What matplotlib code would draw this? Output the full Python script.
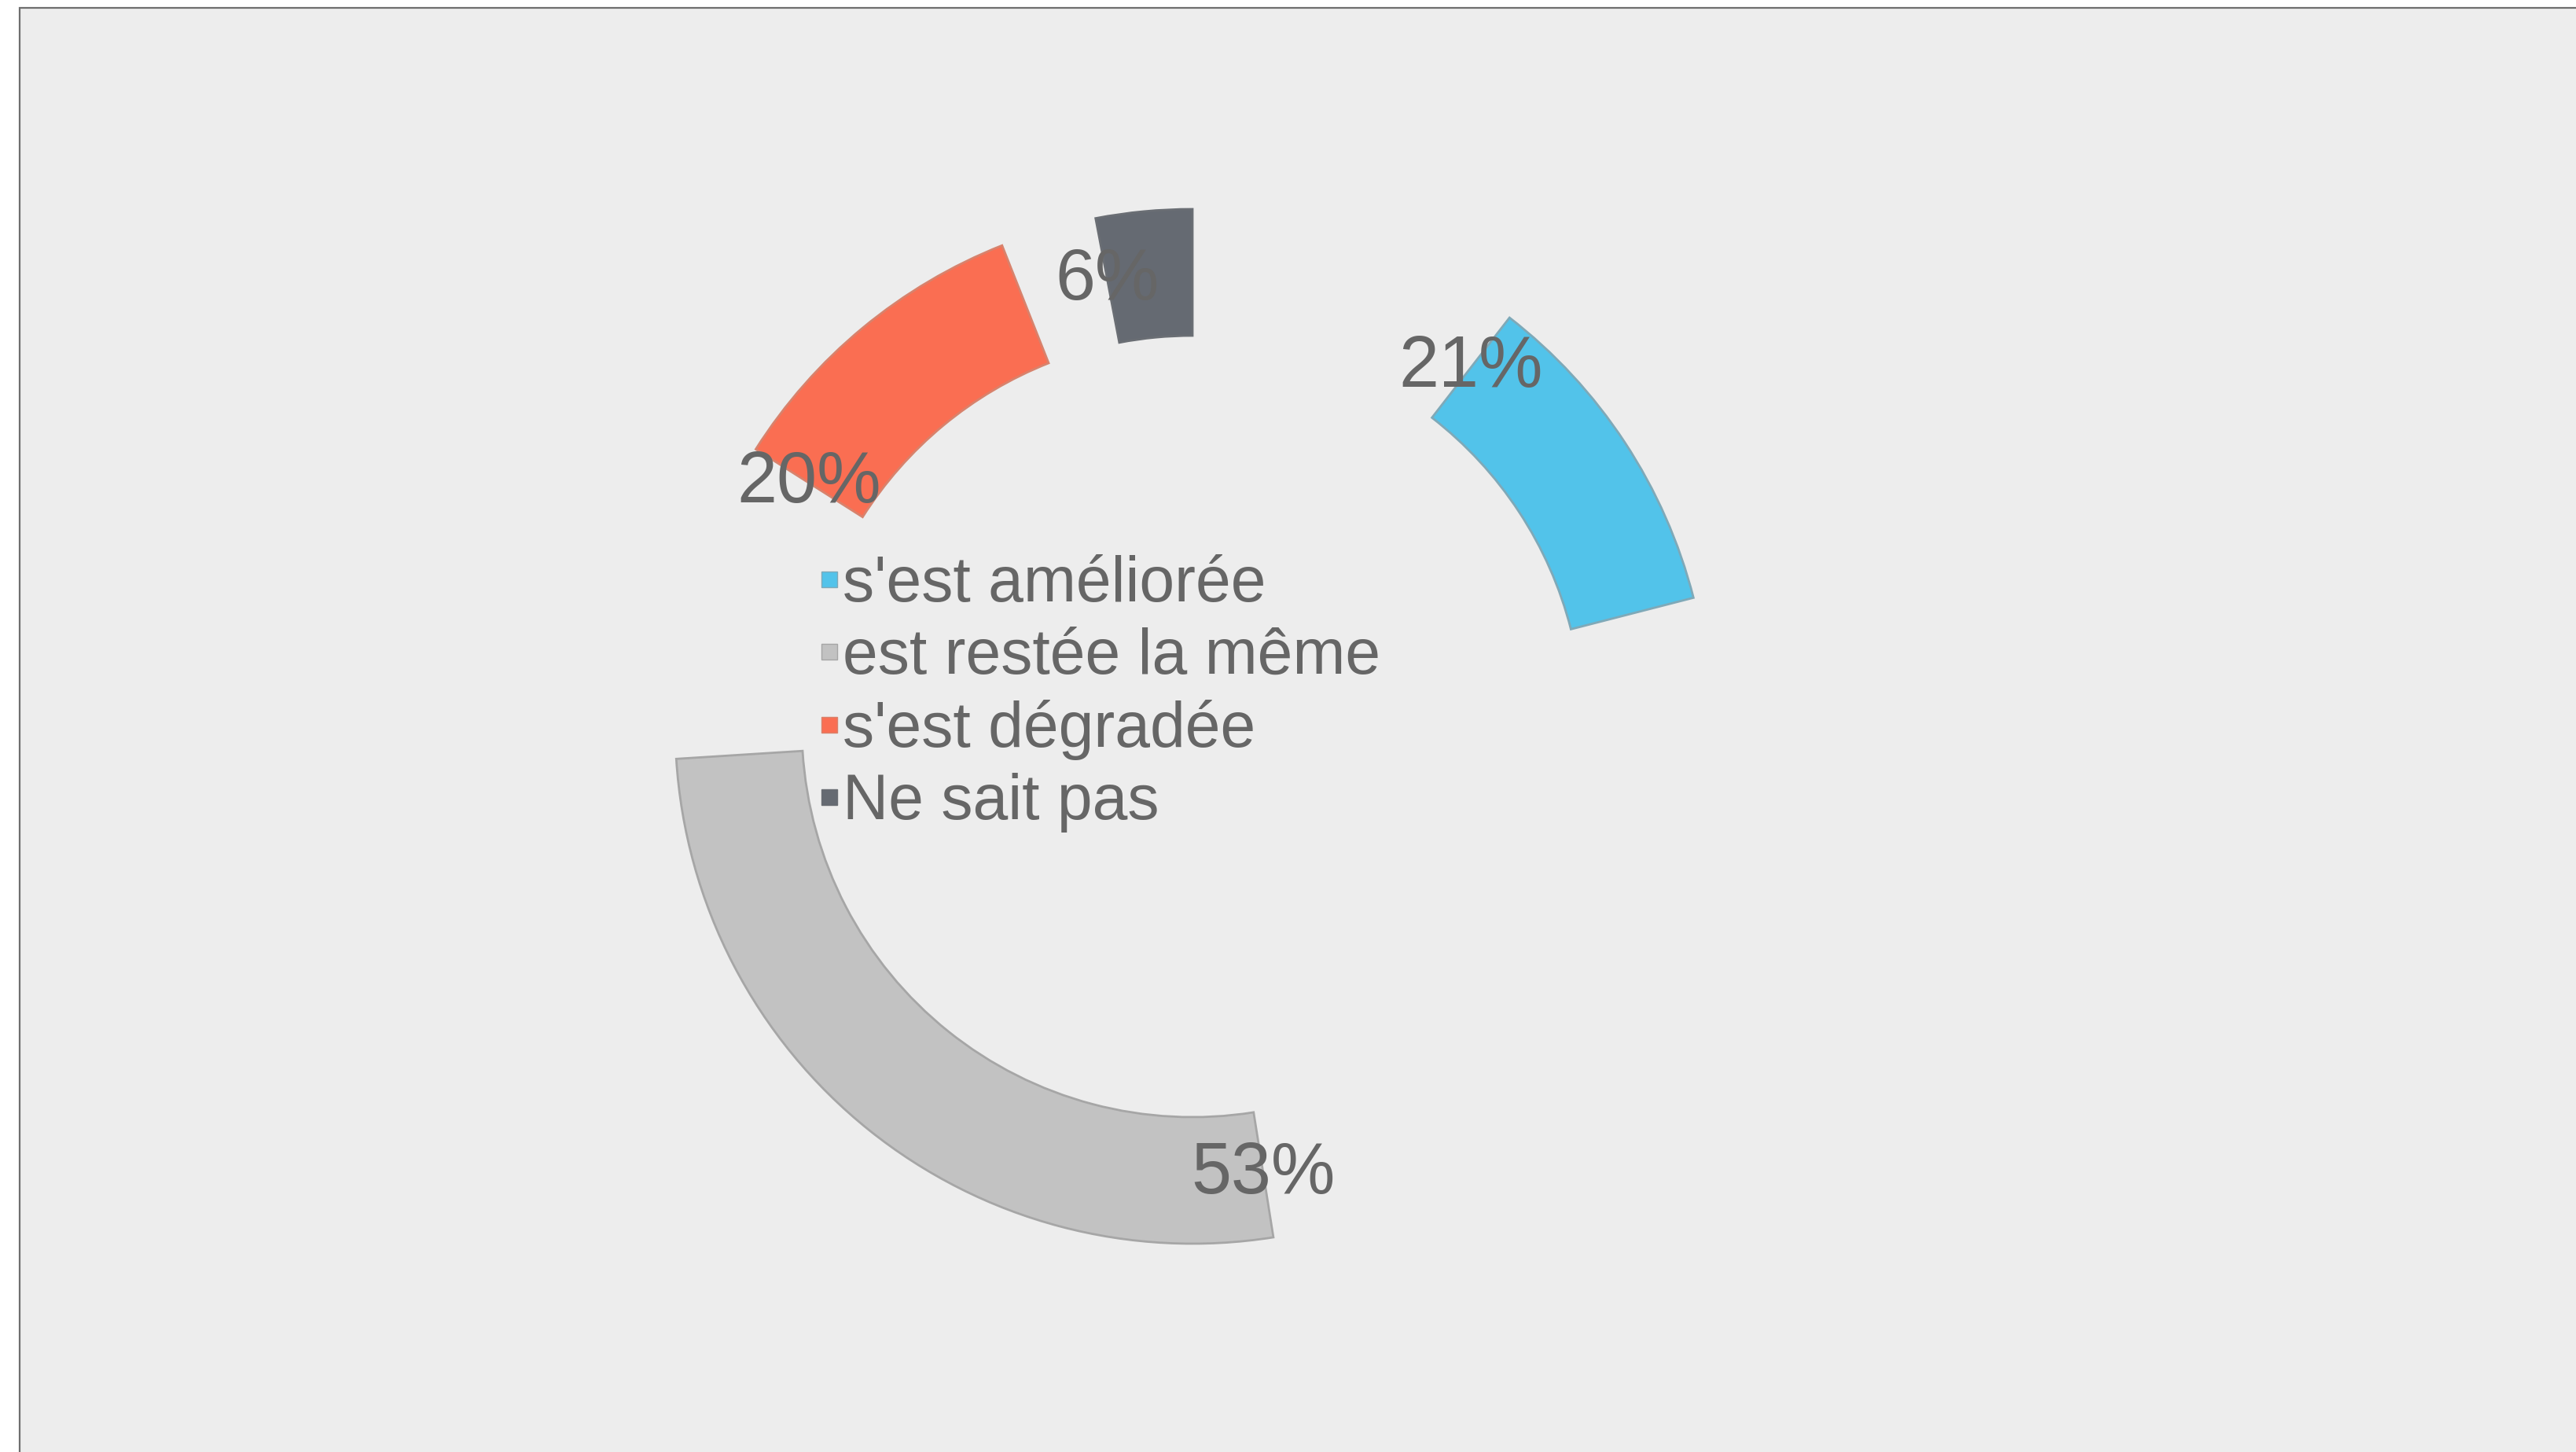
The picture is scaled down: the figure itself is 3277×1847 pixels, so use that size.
import matplotlib
matplotlib.use('Agg')
from matplotlib import pyplot as plt
from matplotlib.patches import Wedge, Rectangle
from matplotlib.lines import Line2D
import numpy as np

labels = ["s'est améliorée", "est restée la même", "s'est dégradée", "Ne sait pas"]
values = [21, 53, 20, 6]
pct_text = ["21%", "53%", "20%", "6%"]
colors = ["#52c3ea", "#c2c2c2", "#fa6e52", "#656a72"]
edges = ["#7fa9b8", "#a6a6a6", "#d8826c", "#6a6e74"]

# the slices are only half drawn (caught mid animation)
progress = 0.5

W, H = 3277, 1847
fig = plt.figure(figsize=(W / 100, H / 100), dpi=100, facecolor="white")

# grey panel with a thin border at top and left
fig.patches.append(Rectangle((25 / W, -0.1), 1.2, 1.1 - 10 / H,
                             transform=fig.transFigure, facecolor="#ededed",
                             edgecolor="#6e6e6e", linewidth=1.6, zorder=-5))

ax = fig.add_axes([0, 0, 1, 1])
ax.set_xlim(0, W)
ax.set_ylim(0, H)
ax.set_aspect("equal")
ax.axis("off")
ax.patch.set_alpha(0)

cx, cy = 1517, H - 924
r_out, r_in = 658, 497
r_mid = (r_out + r_in) / 2

total = sum(values)
start = 90.0
for v, c, ec, t in zip(values, colors, edges, pct_text):
    span = v / total * 360
    end = start - span
    ax.add_patch(Wedge((cx, cy), r_out, end, end + progress * span,
                       width=r_out - r_in, facecolor=c, edgecolor=ec, linewidth=2))
    mid = np.radians(start - span / 2)
    ax.text(cx + r_mid * np.cos(mid), cy + r_mid * np.sin(mid), t,
            ha="center", va="center", fontsize=66, color="#666666",
            family="Liberation Sans", zorder=5)
    start = end

handles = [Line2D([], [], marker="s", linestyle="none", markersize=14,
                  markerfacecolor=c, markeredgecolor=ec, markeredgewidth=1)
           for c, ec in zip(colors, edges)]
leg = fig.legend(handles, labels, loc="upper left", bbox_to_anchor=(1045 / W, 1 - 706 / H),
                 frameon=False, labelspacing=0.2, handlelength=0.26,
                 handletextpad=0.08, borderpad=0, borderaxespad=0,
                 prop={"family": "Liberation Sans", "size": 58})
for txt in leg.get_texts():
    txt.set_color("#666666")

fig.savefig("out.png", dpi=100, facecolor="white")
